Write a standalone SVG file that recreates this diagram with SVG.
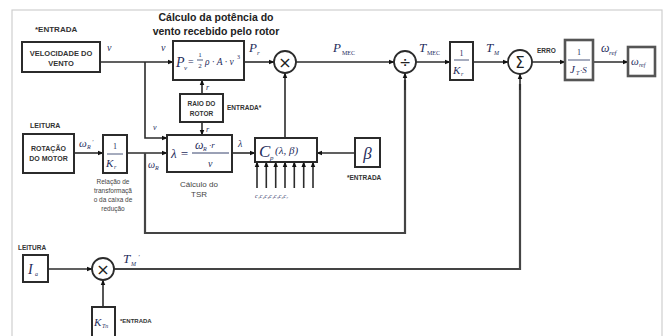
<svg xmlns="http://www.w3.org/2000/svg" width="664" height="336" viewBox="0 0 664 336">
<defs>
<marker id="ah" viewBox="0 0 10 10" refX="9" refY="5" markerWidth="6" markerHeight="6" orient="auto" markerUnits="userSpaceOnUse">
<path d="M0,1 L10,5 L0,9 z" fill="#111"/>
</marker>
<style>
.frame{fill:none;stroke:#cfcfcf;stroke-width:1.2}
.box{fill:#fff;stroke:#2b2b2b;stroke-width:2}
.box2{fill:#fff;stroke:#555;stroke-width:2.6}
.ln{fill:none;stroke:#2b2b2b;stroke-width:1.6}
.lna{fill:none;stroke:#2b2b2b;stroke-width:1.6;marker-end:url(#ah)}
.thick{fill:none;stroke:#444;stroke-width:2.2}
.circ{fill:#fff;stroke:#2b2b2b;stroke-width:1.8}
.lbl{font-family:"Liberation Sans",Arial,sans-serif;font-weight:bold;fill:#333}
.nrm{font-family:"Liberation Sans",Arial,sans-serif;font-weight:normal;fill:#444;text-anchor:middle}
.ttl{font-family:"Liberation Sans",Arial,sans-serif;font-weight:bold;font-size:10.5px;fill:#222;text-anchor:middle}
.m{font-family:"Liberation Serif","Times New Roman",serif;font-style:italic;fill:#1f2d5c}
.mu{font-family:"Liberation Serif","Times New Roman",serif;font-style:normal;fill:#1f2d5c}
.sym{font-family:"DejaVu Sans",sans-serif;fill:#222;text-anchor:middle}
</style>
</defs>
<rect class="frame" x="12" y="10" width="650" height="340"/>

<g id="connectors">
<line class="lna" x1="100" y1="62" x2="173" y2="62"/>
<line class="lna" x1="244" y1="62" x2="274" y2="62"/>
<line class="lna" x1="296" y1="62" x2="394" y2="62"/>
<line class="lna" x1="416" y1="62" x2="450" y2="62"/>
<line class="lna" x1="473" y1="62" x2="508" y2="62"/>
<line class="lna" x1="532" y1="62" x2="565" y2="62"/>
<line class="lna" x1="593" y1="62" x2="628" y2="62"/>
<polyline class="lna" points="145,62 145,138 167,138"/>
<line class="lna" x1="202" y1="94" x2="202" y2="80"/>
<line class="lna" x1="202" y1="122" x2="202" y2="135"/>
<line class="lna" x1="74" y1="153" x2="103" y2="153"/>
<line class="lna" x1="127" y1="153" x2="167" y2="153"/>
<polyline class="thick" points="145,153 145,233 405,233 405,80"/>
<line class="lna" x1="405" y1="90" x2="405" y2="73"/>
<line class="lna" x1="232" y1="153" x2="255" y2="153"/>
<line class="lna" x1="285" y1="138" x2="285" y2="73"/>
<line class="lna" x1="355" y1="153" x2="317" y2="153"/>
<line class="lna" x1="257" y1="188" x2="257" y2="162"/>
<line class="lna" x1="266.3" y1="188" x2="266.3" y2="162"/>
<line class="lna" x1="275.7" y1="188" x2="275.7" y2="162"/>
<line class="lna" x1="285" y1="188" x2="285" y2="162"/>
<line class="lna" x1="294.3" y1="188" x2="294.3" y2="162"/>
<line class="lna" x1="303.7" y1="188" x2="303.7" y2="162"/>
<line class="lna" x1="313" y1="188" x2="313" y2="162"/>
<line class="lna" x1="48" y1="269" x2="92" y2="269"/>
<polyline class="thick" points="114,269 520,269 520,84"/>
<line class="lna" x1="520" y1="90" x2="520" y2="74"/>
<line class="lna" x1="103" y1="307" x2="103" y2="280"/>
</g>

<text class="ttl" x="216" y="21">Cálculo da potência do</text>
<text class="ttl" x="216" y="35">vento recebido pelo rotor</text>

<g id="vel">
<text class="lbl" x="35" y="32" font-size="8">*ENTRADA</text>
<rect class="box" x="22" y="42" width="78" height="30"/>
<text class="lbl" x="61" y="56" font-size="7.5" text-anchor="middle">VELOCIDADE DO</text>
<text class="lbl" x="61" y="66" font-size="7.5" text-anchor="middle">VENTO</text>
<text class="m" x="107" y="51" font-size="10">v</text>
</g>

<g id="pv">
<text class="m" x="161" y="51" font-size="10">v</text>
<rect class="box" x="173" y="41" width="71" height="39"/>
<text class="m" x="176" y="67" font-size="14">P</text>
<text class="m" x="184" y="70" font-size="7">v</text>
<text class="mu" x="188" y="65" font-size="10">=</text>
<text class="mu" x="200" y="57" font-size="7" text-anchor="middle">1</text>
<line x1="197" y1="60" x2="203" y2="60" stroke="#1f2d5c" stroke-width="0.8"/>
<text class="mu" x="200" y="68" font-size="7" text-anchor="middle">2</text>
<text class="m" x="205" y="65" font-size="9.5">ρ · A · v</text>
<text class="mu" x="237" y="59" font-size="6">3</text>
<text class="m" x="249" y="52" font-size="13">P</text>
<text class="m" x="257" y="55" font-size="7">r</text>
</g>

<g id="mult1">
<circle class="circ" cx="285" cy="62" r="11"/>
<text class="sym" x="285" y="68" font-size="16">×</text>
<text class="m" x="333" y="52" font-size="13">P</text>
<text class="mu" x="342" y="55" font-size="6">MEC</text>
</g>

<g id="div">
<circle class="circ" cx="405" cy="62" r="11"/>
<text class="sym" x="405" y="67" font-size="14">÷</text>
<text class="m" x="419" y="52" font-size="13">T</text>
<text class="mu" x="427" y="55" font-size="6">MEC</text>
</g>

<g id="kr2">
<rect class="box" x="450" y="42" width="23" height="38"/>
<text class="mu" x="461.5" y="56" font-size="8" text-anchor="middle">1</text>
<line x1="454" y1="60" x2="469" y2="60" stroke="#1f2d5c" stroke-width="0.8"/>
<text class="m" x="453" y="74" font-size="11">K</text>
<text class="m" x="461" y="76" font-size="6">r</text>
<text class="m" x="486" y="52" font-size="13">T</text>
<text class="m" x="494" y="55" font-size="6">M</text>
</g>

<g id="sum">
<circle class="circ" cx="520" cy="62" r="12"/>
<text class="sym" x="520" y="68" font-size="15">Σ</text>
<text class="lbl" x="537" y="53" font-size="6.5">ERRO</text>
</g>

<g id="jt">
<rect class="box2" x="565" y="40" width="28" height="40"/>
<text class="mu" x="579" y="55" font-size="8" text-anchor="middle">1</text>
<line x1="568" y1="60" x2="590" y2="60" stroke="#1f2d5c" stroke-width="0.8"/>
<text class="m" x="570" y="73" font-size="11">J</text>
<text class="m" x="576" y="75" font-size="6">T</text>
<text class="m" x="580" y="73" font-size="9">·S</text>
<text class="m" x="601" y="52" font-size="12">ω</text>
<text class="m" x="609" y="55" font-size="7">ref</text>
</g>

<g id="out">
<rect class="box2" x="628" y="47" width="27" height="29"/>
<text class="m" x="631" y="65" font-size="11">ω</text>
<text class="m" x="639" y="67" font-size="6">ref</text>
</g>

<g id="raio">
<text class="m" x="206" y="90" font-size="8">r</text>
<rect class="box" x="180" y="94" width="43" height="28"/>
<text class="lbl" x="201.5" y="106" font-size="6.5" text-anchor="middle">RAIO DO</text>
<text class="lbl" x="201.5" y="116" font-size="6.5" text-anchor="middle">ROTOR</text>
<text class="lbl" x="227" y="110" font-size="6.5">ENTRADA*</text>
<text class="m" x="206" y="132" font-size="8">r</text>
</g>

<g id="tsr">
<text class="m" x="153" y="130" font-size="8">v</text>
<rect class="box" x="167" y="135" width="65" height="37"/>
<text class="m" x="171" y="158" font-size="13">λ =</text>
<text class="m" x="195" y="149" font-size="12">ω</text>
<text class="m" x="203" y="151" font-size="6">R</text>
<text class="m" x="209" y="148" font-size="9">·r</text>
<line x1="192" y1="153" x2="229" y2="153" stroke="#1f2d5c" stroke-width="0.9"/>
<text class="m" x="208" y="167" font-size="10">v</text>
<text class="nrm" x="199" y="187" font-size="8">Cálculo do</text>
<text class="nrm" x="199" y="197" font-size="8">TSR</text>
<text class="m" x="238" y="147" font-size="10">λ</text>
</g>

<g id="rot">
<text class="lbl" x="30" y="128" font-size="7">LEITURA</text>
<rect class="box" x="23" y="134" width="51" height="39"/>
<text class="lbl" x="48.5" y="151" font-size="7" text-anchor="middle">ROTAÇÃO</text>
<text class="lbl" x="48.5" y="161" font-size="7" text-anchor="middle">DO MOTOR</text>
<text class="m" x="79" y="147" font-size="11">ω</text>
<text class="m" x="87" y="149" font-size="6">R</text>
<text class="m" x="92" y="144" font-size="6">'</text>
</g>

<g id="kr1">
<rect class="box" x="103" y="135" width="24" height="38"/>
<text class="mu" x="115" y="149" font-size="8" text-anchor="middle">1</text>
<line x1="107" y1="154" x2="123" y2="154" stroke="#1f2d5c" stroke-width="0.8"/>
<text class="m" x="106" y="167" font-size="11">K</text>
<text class="m" x="114" y="169" font-size="6">r</text>
<text class="nrm" x="113" y="184" font-size="6.5">Relação de</text>
<text class="nrm" x="113" y="193" font-size="6.5">transformaçã</text>
<text class="nrm" x="113" y="202" font-size="6.5">o da caixa de</text>
<text class="nrm" x="113" y="211" font-size="6.5">redução</text>
<text class="m" x="148" y="168" font-size="10">ω</text>
<text class="m" x="155" y="170" font-size="6">R</text>
</g>

<g id="cp">
<rect class="box" x="255" y="138" width="62" height="24"/>
<text class="m" x="259" y="157" font-size="17">C</text>
<text class="m" x="270" y="160" font-size="7">p</text>
<text class="m" x="275" y="154" font-size="11">(λ, β)</text>
<text class="m" x="255" y="198" font-size="6">c₁c₂c₃c₄c₅c₆c₇</text>
</g>

<g id="beta">
<rect class="box" x="355" y="138" width="25" height="29"/>
<text class="m" x="367.5" y="159" font-size="17" text-anchor="middle">β</text>
<text class="lbl" x="347" y="180" font-size="6.5">*ENTRADA</text>
</g>

<g id="ia">
<text class="lbl" x="18" y="250" font-size="6.5">LEITURA</text>
<rect class="box" x="23" y="255" width="25" height="27"/>
<text class="m" x="28" y="274" font-size="14">I</text>
<text class="m" x="35" y="276" font-size="6">a</text>
</g>

<g id="mult2">
<circle class="circ" cx="103" cy="269" r="11"/>
<text class="sym" x="103" y="275" font-size="16">×</text>
<text class="m" x="123" y="263" font-size="13">T</text>
<text class="m" x="131" y="266" font-size="6">M</text>
<text class="m" x="138" y="259" font-size="7">'</text>
</g>

<g id="ktn">
<rect class="box" x="92" y="307" width="23" height="32"/>
<text class="m" x="94" y="326" font-size="11">K</text>
<text class="m" x="102" y="328" font-size="6">Tn</text>
<text class="lbl" x="120" y="323" font-size="6">*ENTRADA</text>
</g>
</svg>
